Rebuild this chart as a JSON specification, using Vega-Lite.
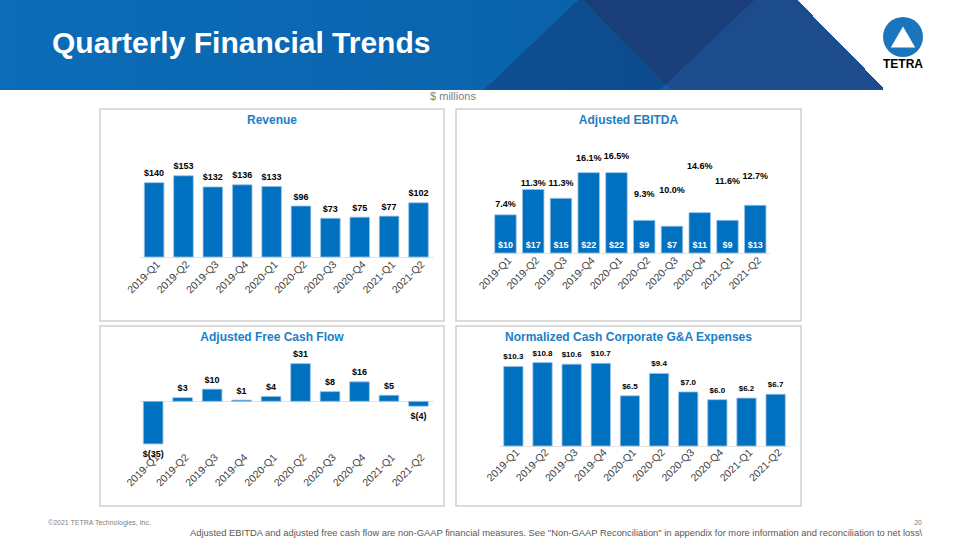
{
  "$schema": "https://vega.github.io/schema/vega-lite/v6.json",
  "padding": 0,
  "background": "white",
  "autosize": {"type": "pad"},
  "config": {
    "font": "Liberation Sans",
    "view": {"stroke": null},
    "title": {"font": "Liberation Sans"},
    "axis": {"labelFont": "Liberation Sans"}
  },
  "datasets": {
    "quarters": [
      {"q": "2019-Q1", "rev": 140, "ebitda": 10.4, "margin": 0.074, "fcf": -35, "fcf_label": "$(35)", "ga": 10.3},
      {"q": "2019-Q2", "rev": 153, "ebitda": 17.3, "margin": 0.113, "fcf": 3, "fcf_label": "$3", "ga": 10.8},
      {"q": "2019-Q3", "rev": 132, "ebitda": 14.9, "margin": 0.113, "fcf": 10, "fcf_label": "$10", "ga": 10.6},
      {"q": "2019-Q4", "rev": 136, "ebitda": 21.9, "margin": 0.161, "fcf": 1, "fcf_label": "$1", "ga": 10.7},
      {"q": "2020-Q1", "rev": 133, "ebitda": 21.9, "margin": 0.165, "fcf": 4, "fcf_label": "$4", "ga": 6.5},
      {"q": "2020-Q2", "rev": 96, "ebitda": 8.9, "margin": 0.093, "fcf": 31, "fcf_label": "$31", "ga": 9.4},
      {"q": "2020-Q3", "rev": 73, "ebitda": 7.3, "margin": 0.100, "fcf": 8, "fcf_label": "$8", "ga": 7.0},
      {"q": "2020-Q4", "rev": 75, "ebitda": 11.0, "margin": 0.146, "fcf": 16, "fcf_label": "$16", "ga": 6.0},
      {"q": "2021-Q1", "rev": 77, "ebitda": 8.9, "margin": 0.116, "fcf": 5, "fcf_label": "$5", "ga": 6.2},
      {"q": "2021-Q2", "rev": 102, "ebitda": 13.0, "margin": 0.127, "fcf": -4, "fcf_label": "$(4)", "ga": 6.7}
    ]
  },
  "spacing": 0,
  "vconcat": [
    {
      "spacing": 0,
      "hconcat": [
        {
          "width": 883,
          "height": 90,
          "title": {"text": "Quarterly Financial Trends", "anchor": "start", "frame": "group", "orient": "top", "offset": -83, "baseline": "alphabetic", "dx": 52, "fontSize": 30, "fontWeight": "bold", "color": "#ffffff"},
          "data": {"values": [{}]},
          "layer": [
            {
              "mark": {"type": "rect", "color": {"gradient": "linear", "x1": 0, "y1": 0, "x2": 1, "y2": 0, "stops": [{"offset": 0, "color": "#0c6cb7"}, {"offset": 0.55, "color": "#0a64ae"}, {"offset": 1, "color": "#0a5aa3"}]}},
              "encoding": {"x": {"value": 0}, "x2": {"value": "width"}, "y": {"value": 0}, "y2": {"value": "height"}}
            },
            {
              "mark": {"type": "rect", "color": {"gradient": "linear", "x1": 0, "y1": 0, "x2": 1, "y2": -0.1, "stops": [{"offset": 0, "color": "rgba(29,76,141,0)"}, {"offset": 0.654, "color": "rgba(29,76,141,0)"}, {"offset": 0.654, "color": "#1d4c8d"}, {"offset": 0.894, "color": "#1d4c8d"}, {"offset": 0.894, "color": "#ffffff"}, {"offset": 1, "color": "#ffffff"}]}},
              "encoding": {"x": {"value": 0}, "x2": {"value": "width"}, "y": {"value": 0}, "y2": {"value": "height"}}
            },
            {
              "mark": {"type": "rect", "color": {"gradient": "linear", "x1": 0, "y1": 0, "x2": 1, "y2": 0.107, "stops": [{"offset": 0, "color": "rgba(20,30,80,0)"}, {"offset": 0.6473, "color": "rgba(20,30,80,0)"}, {"offset": 0.6473, "color": "rgba(20,30,80,0.3)"}, {"offset": 0.8445, "color": "rgba(20,30,80,0.3)"}, {"offset": 0.8445, "color": "rgba(20,30,80,0)"}, {"offset": 1, "color": "rgba(20,30,80,0)"}]}},
              "encoding": {"x": {"value": 0}, "x2": {"value": "width"}, "y": {"value": 0}, "y2": {"value": "height"}}
            }
          ]
        },
        {
          "width": 40,
          "height": 74,
          "title": {"text": "TETRA", "orient": "bottom", "offset": -15, "baseline": "top", "anchor": "middle", "fontSize": 12, "fontWeight": "bold", "color": "#000000"},
          "data": {"values": [{}]},
          "layer": [
            {"mark": {"type": "point", "shape": "circle", "filled": true, "size": 1600, "color": "#1a75bd", "opacity": 1}, "encoding": {}},
            {"mark": {"type": "point", "shape": "triangle-up", "filled": true, "size": 600, "color": "#ffffff", "opacity": 1}, "encoding": {}}
          ]
        }
      ]
    },
    {
      "width": 906,
      "height": 18,
      "data": {"values": [{"label": "$ millions"}]},
      "mark": {"type": "text", "dy": -2, "baseline": "middle", "fontSize": 11, "color": "#808080"},
      "encoding": {"text": {"field": "label", "type": "nominal"}}
    },
    {
      "spacing": 3,
      "vconcat": [
        {
          "spacing": 10,
          "hconcat": [
            {"width": 89, "height": 1, "data": {"values": [{}]}, "mark": {"type": "point", "opacity": 0, "size": 1}, "encoding": {}},
            {
              "width": 344,
              "height": 212,
              "view": {"stroke": "#d0d0d0", "strokeWidth": 1.5, "fill": "#ffffff"},
              "title": {"text": "Revenue", "anchor": "middle", "offset": -23.3, "baseline": "middle", "fontSize": 12, "fontWeight": "bold", "color": "#1c7ec6"},
              "data": {"name": "quarters"},
              "encoding": {
                "x": {"field": "q", "type": "nominal", "sort": null,
                  "scale": {"paddingInner": 0.333, "paddingOuter": 0.1667, "range": [39.4, 333.2]},
                  "axis": {"title": null, "labelAngle": -45, "labelAlign": "right", "labelBaseline": "top", "labelPadding": 2, "ticks": false, "domain": true, "domainColor": "#e3e3e3", "domainWidth": 1, "grid": false, "offset": -64, "labelFontSize": 10.5, "labelColor": "#404040", "labelOffset": 1}}
              },
              "layer": [
                {"mark": {"type": "bar", "color": "#0070c0", "stroke": "#9cc3e6", "strokeWidth": 0.8},
                  "encoding": {"y": {"field": "rev", "type": "quantitative", "scale": {"domain": [-120.5, 278.7], "nice": false, "zero": false}, "axis": null}}},
                {"mark": {"type": "text", "baseline": "alphabetic", "dy": -6.5, "fontSize": 9, "fontWeight": "bold", "color": "#000000"},
                  "encoding": {"y": {"field": "rev", "type": "quantitative"}, "text": {"field": "rev", "type": "quantitative", "format": "$.0f"}}}
              ]
            },
            {
              "width": 345,
              "height": 212,
              "view": {"stroke": "#d0d0d0", "strokeWidth": 1.5, "fill": "#ffffff"},
              "title": {"text": "Adjusted EBITDA", "anchor": "middle", "offset": -23.3, "baseline": "middle", "fontSize": 12, "fontWeight": "bold", "color": "#1c7ec6"},
              "data": {"name": "quarters"},
              "encoding": {
                "x": {"field": "q", "type": "nominal", "sort": null,
                  "scale": {"paddingInner": 0.226, "paddingOuter": 0.113, "range": [35.6, 313.1]},
                  "axis": {"title": null, "labelAngle": -45, "labelAlign": "right", "labelBaseline": "top", "labelPadding": 2, "ticks": false, "domain": true, "domainColor": "#e3e3e3", "domainWidth": 1, "grid": false, "offset": -68, "labelFontSize": 10.5, "labelColor": "#404040", "labelOffset": 1}}
              },
              "layer": [
                {"mark": {"type": "bar", "color": "#0070c0", "stroke": "#9cc3e6", "strokeWidth": 0.8},
                  "encoding": {"y": {"field": "ebitda", "type": "quantitative", "scale": {"domain": [-18.53, 39.24], "nice": false, "zero": false}, "axis": null}}},
                {"mark": {"type": "text", "baseline": "alphabetic", "dy": -5, "fontSize": 9, "fontWeight": "bold", "color": "#ffffff"},
                  "encoding": {"y": {"datum": 0, "type": "quantitative", "scale": {"domain": [-18.53, 39.24], "nice": false, "zero": false}, "axis": null}, "text": {"field": "ebitda", "type": "quantitative", "format": "$.0f"}}},
                {"mark": {"type": "text", "baseline": "middle", "fontSize": 9, "fontWeight": "bold", "color": "#000000"},
                  "encoding": {"y": {"field": "margin", "type": "quantitative", "scale": {"domain": [-0.1478, 0.2529], "nice": false, "zero": false}, "axis": null}, "text": {"field": "margin", "type": "quantitative", "format": ".1%"}}}
              ],
              "resolve": {"scale": {"y": "independent"}}
            }
          ]
        },
        {
          "spacing": 10,
          "hconcat": [
            {"width": 89, "height": 1, "data": {"values": [{}]}, "mark": {"type": "point", "opacity": 0, "size": 1}, "encoding": {}},
            {
              "width": 344,
              "height": 180,
              "view": {"stroke": "#d0d0d0", "strokeWidth": 1.5, "fill": "#ffffff"},
              "title": {"text": "Adjusted Free Cash Flow", "anchor": "middle", "offset": -23, "baseline": "middle", "fontSize": 12, "fontWeight": "bold", "color": "#1c7ec6"},
              "data": {"name": "quarters"},
              "encoding": {
                "x": {"field": "q", "type": "nominal", "sort": null,
                  "scale": {"paddingInner": 0.333, "paddingOuter": 0.1667, "range": [38.4, 333.2]},
                  "axis": {"title": null, "labelAngle": -45, "labelAlign": "right", "labelBaseline": "top", "labelPadding": 0, "ticks": false, "domain": false, "grid": false, "offset": -54, "labelFontSize": 10.5, "labelColor": "#404040", "labelOffset": 1}}
              },
              "layer": [
                {"mark": {"type": "bar", "color": "#0070c0", "stroke": "#9cc3e6", "strokeWidth": 0.8},
                  "encoding": {"y": {"field": "fcf", "type": "quantitative", "scale": {"domain": [-86, 61.9], "nice": false, "zero": false},
                    "axis": {"title": null, "values": [0], "grid": true, "gridColor": "#e3e3e3", "gridWidth": 1, "labels": false, "ticks": false, "domain": false}}}},
                {"transform": [{"filter": "datum.fcf >= 0"}],
                  "mark": {"type": "text", "baseline": "alphabetic", "dy": -6.5, "fontSize": 9, "fontWeight": "bold", "color": "#000000"},
                  "encoding": {"y": {"field": "fcf", "type": "quantitative",
                    "axis": {"title": null, "values": [0], "grid": true, "gridColor": "#e3e3e3", "gridWidth": 1, "labels": false, "ticks": false, "domain": false}}, "text": {"field": "fcf_label", "type": "nominal"}}},
                {"transform": [{"filter": "datum.fcf < 0"}],
                  "mark": {"type": "text", "baseline": "alphabetic", "dy": 13, "fontSize": 9, "fontWeight": "bold", "color": "#000000"},
                  "encoding": {"y": {"field": "fcf", "type": "quantitative",
                    "axis": {"title": null, "values": [0], "grid": true, "gridColor": "#e3e3e3", "gridWidth": 1, "labels": false, "ticks": false, "domain": false}}, "text": {"field": "fcf_label", "type": "nominal"}}}
              ]
            },
            {
              "width": 345,
              "height": 180,
              "view": {"stroke": "#d0d0d0", "strokeWidth": 1.5, "fill": "#ffffff"},
              "title": {"text": "Normalized Cash Corporate G&A Expenses", "anchor": "middle", "offset": -22.7, "baseline": "middle", "fontSize": 12, "fontWeight": "bold", "color": "#1c7ec6"},
              "data": {"name": "quarters"},
              "encoding": {
                "x": {"field": "q", "type": "nominal", "sort": null,
                  "scale": {"paddingInner": 0.338, "paddingOuter": 0.169, "range": [42.8, 334.2]},
                  "axis": {"title": null, "labelAngle": -45, "labelAlign": "right", "labelBaseline": "top", "labelPadding": 1, "ticks": false, "domain": true, "domainColor": "#e3e3e3", "domainWidth": 1, "grid": false, "offset": -60, "labelFontSize": 10.5, "labelColor": "#404040", "labelOffset": 1}}
              },
              "layer": [
                {"mark": {"type": "bar", "color": "#0070c0", "stroke": "#9cc3e6", "strokeWidth": 0.8},
                  "encoding": {"y": {"field": "ga", "type": "quantitative", "scale": {"domain": [-7.77, 15.54], "nice": false, "zero": false}, "axis": null}}},
                {"mark": {"type": "text", "baseline": "alphabetic", "dy": -7, "fontSize": 8, "fontWeight": "bold", "color": "#000000"},
                  "encoding": {"y": {"field": "ga", "type": "quantitative"}, "text": {"field": "ga", "type": "quantitative", "format": "$.1f"}}}
              ]
            }
          ]
        }
      ]
    },
    {
      "spacing": 0,
      "hconcat": [
        {"width": 900, "height": 1, "data": {"values": [{}]}, "mark": {"type": "point", "opacity": 0, "size": 1}, "encoding": {},
          "title": {"text": "©2021 TETRA Technologies, Inc.", "anchor": "start", "dx": 48, "offset": -23, "baseline": "middle", "fontSize": 7, "fontWeight": "normal", "color": "#7f7f7f"}},
        {"width": 22, "height": 1, "data": {"values": [{}]}, "mark": {"type": "point", "opacity": 0, "size": 1}, "encoding": {},
          "title": {"text": "20", "anchor": "end", "offset": -23, "baseline": "middle", "fontSize": 7, "fontWeight": "normal", "color": "#7f7f7f"}}
      ]
    },
    {
      "width": 930, "height": 1, "data": {"values": [{}]}, "mark": {"type": "point", "opacity": 0, "size": 1}, "encoding": {},
      "title": {"text": "Adjusted EBITDA  and adjusted free cash flow are non-GAAP financial measures. See \"Non-GAAP Reconciliation\" in appendix for more information and reconciliation to net loss\\", "anchor": "start", "dx": 190, "offset": -16.5, "baseline": "middle", "fontSize": 9.4, "fontWeight": "normal", "color": "#595959"}
    }
  ]
}
